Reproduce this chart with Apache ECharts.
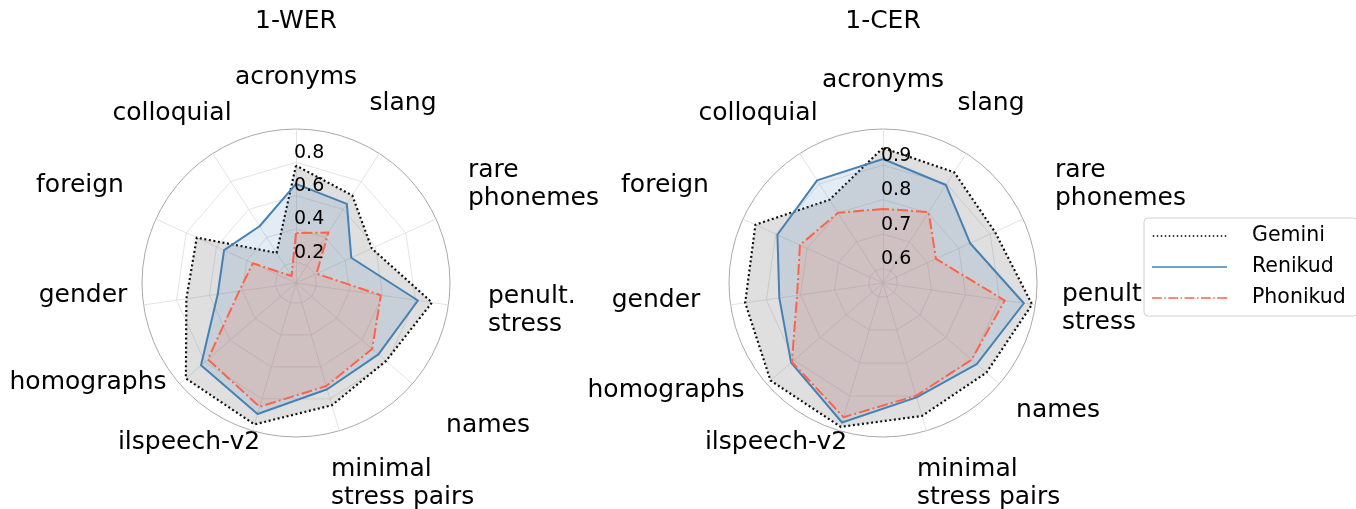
<!DOCTYPE html>
<html>
<head>
<meta charset="utf-8">
<script src="https://cdn.jsdelivr.net/npm/echarts@6/dist/echarts.min.js"></script>
<style>
  html, body { margin: 0; padding: 0; background: #fff; }
  #chart { width: 1356px; height: 509px; }
</style>
</head>
<body>
<div id="chart"></div>
<script>
// categories, counter-clockwise from the top (as in the figure)
const werCategories = ['acronyms', 'colloquial', 'foreign', 'gender', 'homographs', 'ilspeech-v2',
  'minimal\nstress pairs', 'names', 'penult.\nstress', 'rare\nphonemes', 'slang'];
const cerCategories = ['acronyms', 'colloquial', 'foreign', 'gender', 'homographs', 'ilspeech-v2',
  'minimal\nstress pairs', 'names', 'penult\nstress', 'rare\nphonemes', 'slang'];

// 1-WER
const werGemini   = [0.78, 0.29, 0.73, 0.74, 0.95, 0.96, 0.84, 0.79, 0.90, 0.575, 0.70];
const werRenikud  = [0.67, 0.48, 0.55, 0.55, 0.83, 0.895, 0.74, 0.73, 0.815, 0.44, 0.64];
const werPhonikud = [0.375, 0.125, 0.36, 0.42, 0.775, 0.85, 0.72, 0.68, 0.59, 0.21, 0.435];

// 1-CER
const cerGemini   = [0.95, 0.845, 0.965, 0.962, 0.99, 0.993, 0.96, 0.955, 0.995, 0.915, 0.94];
const cerRenikud  = [0.918, 0.912, 0.895, 0.862, 0.911, 0.98, 0.904, 0.918, 0.971, 0.836, 0.896];
const cerPhonikud = [0.773, 0.80, 0.823, 0.81, 0.908, 0.964, 0.899, 0.898, 0.915, 0.727, 0.803];

// radial ticks and ranges
const werTicks = [0.2, 0.4, 0.6, 0.8];
const cerTicks = [0.6, 0.7, 0.8, 0.9];
const werRange = [0.075, 1.0];
const cerRange = [0.558, 1.005];

const seriesNames = ['Gemini', 'Renikud', 'Phonikud'];

// ---- layout / style ----
const FONT = 'DejaVu Sans';
const R = 154;
const CY = 283;
const centers = [[296, CY], [883, CY]];

// where the category labels sit, relative to each chart's centre
const werLabelPos = [
  [0, -206, 'center'], [-124, -170, 'center'], [-216, -98, 'center'], [-213, 12, 'center'],
  [-208, 99, 'center'], [-107, 159, 'center'], [35, 200, 'left'], [192, 142, 'center'],
  [192, 27, 'left'], [172, -99, 'left'], [107, -180, 'center']
];
const cerLabelPos = [
  [0, -203, 'center'], [-125, -170, 'center'], [-218, -98, 'center'], [-227, 17, 'center'],
  [-217, 107, 'center'], [-107, 159, 'center'], [34, 200, 'left'], [175, 127, 'center'],
  [179, 25, 'left'], [172, -99, 'left'], [108, -180, 'center']
];

const styles = {
  Gemini:   { line: '#000000', fill: 'rgba(128,128,128,0.25)', width: 2.2, type: [2, 2.6] },
  Renikud:  { line: '#4682b4', fill: 'rgba(70,130,180,0.15)', width: 2, type: 'solid' },
  Phonikud: { line: '#ff6347', fill: 'rgba(255,99,71,0.15)', width: 2, type: [11, 3, 2, 3] }
};
const GRID = '#dcdcdc';

// legend icons drawn as small path patterns
function patternPath(pattern, len, h) {
  let d = '', x = 0, i = 0;
  while (x < len) {
    const on = pattern[i % pattern.length];
    const off = pattern[(i + 1) % pattern.length];
    const w = Math.min(on, len - x);
    d += 'M' + x + ',0h' + w + 'v' + h + 'h-' + w + 'z';
    x += on + off;
    i += 2;
  }
  return 'path://' + d;
}
const legendIcons = {
  Gemini: patternPath([1.5, 2.5], 75, 1.6),
  Renikud: 'path://M0,0h75v1.5h-75z',
  Phonikud: patternPath([9.6, 2.4, 1.5, 2.4], 75, 1.5)
};

const chart = echarts.init(document.getElementById('chart'));

function radarFor(idx, range) {
  return {
    center: centers[idx],
    radius: R,
    startAngle: 90,
    shape: 'polygon',
    splitNumber: 1,
    indicator: werCategories.map(() => ({ min: range[0], max: range[1] })),
    axisName: { show: false },
    axisLine: { lineStyle: { color: GRID, width: 0.8 } },
    splitLine: { show: false },
    splitArea: { show: false },
    axisTick: { show: false },
    axisLabel: { show: false }
  };
}

function gridSeries(idx, ticks) {
  return {
    type: 'radar',
    radarIndex: idx,
    silent: true,
    symbol: 'none',
    z: 1,
    data: ticks.map(t => ({
      name: 'ring ' + t,
      value: werCategories.map(() => t),
      lineStyle: { color: GRID, width: 0.8 },
      areaStyle: { opacity: 0 }
    }))
  };
}

function dataSeries(idx, lists) {
  return {
    type: 'radar',
    radarIndex: idx,
    symbol: 'none',
    silent: true,
    z: 3,
    data: seriesNames.map((n, k) => ({
      name: n,
      value: lists[k],
      lineStyle: { color: styles[n].line, width: styles[n].width, type: styles[n].type },
      itemStyle: { color: styles[n].line },
      areaStyle: { color: styles[n].fill, opacity: 1 }
    }))
  };
}

function labelGraphics(idx, cats, pos) {
  return cats.map((c, i) => ({
    type: 'text',
    x: centers[idx][0] + pos[i][0],
    y: centers[idx][1] + pos[i][1],
    silent: true,
    style: {
      text: c,
      fontSize: 25,
      fontFamily: FONT,
      fill: '#000',
      align: pos[i][2],
      verticalAlign: 'middle',
      lineHeight: 28
    }
  }));
}

const option = {
  backgroundColor: '#fff',
  animation: false,
  title: [
    { text: '1-WER', left: centers[0][0], top: 9, textAlign: 'center', padding: 0,
      textStyle: { fontSize: 25, fontWeight: 'normal', fontFamily: FONT, color: '#000' } },
    { text: '1-CER', left: centers[1][0], top: 9, textAlign: 'center', padding: 0,
      textStyle: { fontSize: 25, fontWeight: 'normal', fontFamily: FONT, color: '#000' } }
  ],
  legend: {
    orient: 'vertical',
    left: 1144,
    top: 218,
    padding: [6, 12, 6, 8],
    itemWidth: 75,
    itemHeight: 1.6,
    itemGap: 7,
    borderColor: '#d0d0d0',
    borderWidth: 1,
    borderRadius: 4,
    backgroundColor: 'rgba(255,255,255,0.8)',
    selectedMode: false,
    textStyle: { fontSize: 20.5, fontFamily: FONT, color: '#000', padding: [0, 0, 0, 20], lineHeight: 24 },
    itemStyle: { borderWidth: 0 },
    data: seriesNames.map(n => ({ name: n, icon: legendIcons[n], itemStyle: { color: styles[n].line, borderWidth: 0 } }))
  },
  polar: centers.map(c => ({ center: c, radius: R })),
  angleAxis: centers.map((c, i) => ({
    polarIndex: i, type: 'value', min: 0, max: 360, startAngle: 90,
    axisLine: { lineStyle: { color: '#aaaaaa', width: 1 } },
    axisTick: { show: false }, axisLabel: { show: false }, splitLine: { show: false }
  })),
  radiusAxis: [[werRange, werTicks], [cerRange, cerTicks]].map(([range, ticks], i) => ({
    polarIndex: i, type: 'value', min: range[0], max: range[1], z: 10,
    axisLine: { show: false }, axisTick: { show: false }, splitLine: { show: false },
    axisLabel: {
      customValues: ticks, inside: true, margin: 2, fontSize: 19, fontFamily: FONT,
      color: '#000', align: 'left', verticalAlign: 'bottom',
      formatter: v => String(+v.toFixed(2))
    }
  })),
  radar: [radarFor(0, werRange), radarFor(1, cerRange)],
  series: [
    gridSeries(0, werTicks),
    gridSeries(1, cerTicks),
    dataSeries(0, [werGemini, werRenikud, werPhonikud]),
    dataSeries(1, [cerGemini, cerRenikud, cerPhonikud])
  ],
  graphic: labelGraphics(0, werCategories, werLabelPos).concat(labelGraphics(1, cerCategories, cerLabelPos))
};

chart.setOption(option);
</script>
</body>
</html>
